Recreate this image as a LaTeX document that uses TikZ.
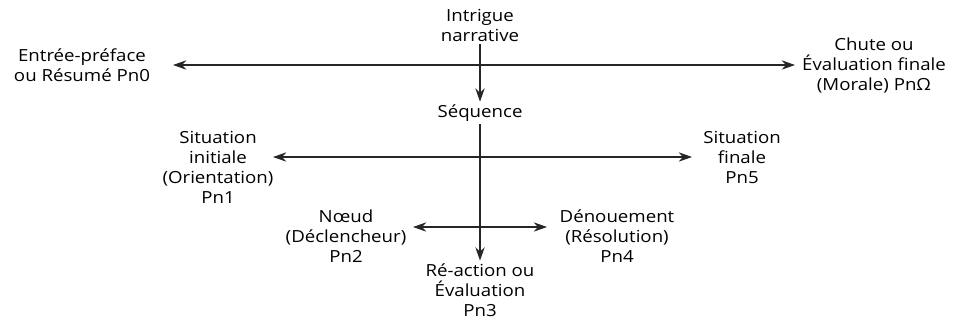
\documentclass[tikz,border=0pt]{standalone}
\usepackage{fontspec}
\setmainfont[FakeStretch=1.12]{Open Sans}
\usetikzlibrary{arrows.meta}

\begin{document}
\begin{tikzpicture}[x=0.75pt,y=-0.75pt,
    >={Stealth[length=10pt,width=7pt]},
    label/.style={align=center,inner sep=2pt,font=\fontsize{12.5}{15}\selectfont},
    axis/.style={line width=0.9pt,draw=black!85}]
    \useasboundingbox (0,0) rectangle (955,322);
    % labels
    \node[label] (intrigue) at (480,25) {Intrigue\\narrative};
    \node[label] (sequence) at (480,113) {Séquence};
    \node[label] (entree) at (82,65) {Entrée-préface\\ou Résumé Pn0};
    \node[label] (chute) at (874,65) {Chute ou\\Évaluation finale\\(Morale) PnΩ};
    \node[label] (initiale) at (218,167) {Situation\\initiale\\(Orientation)\\Pn1};
    \node[label] (finale) at (742,157) {Situation\\finale\\Pn5};
    \node[label] (noeud) at (346,236) {Nœud\\(Déclencheur)\\Pn2};
    \node[label] (denouement) at (617,236) {Dénouement\\(Résolution)\\Pn4};
    \node[label] (reaction) at (480,290) {Ré-action ou\\Évaluation\\Pn3};
    % points on the axis
    \coordinate (c0) at (480,65);
    \coordinate (c1) at (480,157);
    \coordinate (c2) at (480,227);
    % arrow tips
    \coordinate (t0l) at (173,65);
    \coordinate (t0r) at (795,65);
    \coordinate (t1l) at (273,157);
    \coordinate (t1r) at (692,157);
    \coordinate (t2l) at (413,227);
    \coordinate (t2r) at (547,227);
    % vertical axis
    \draw[axis][->] (intrigue.south) -- (sequence.north);
    \draw[axis][->] (sequence.south) -- (reaction.north);
    % horizontal arrows
    \draw[axis][->] (c0) -- (t0l); % to the beginning
    \draw[axis][->] (c0) -- (t0r); % to the end
    \draw[axis][->] (c1) -- (t1l);
    \draw[axis][->] (c1) -- (t1r);
    \draw[axis][->] (c2) -- (t2l);
    \draw[axis][->] (c2) -- (t2r);
\end{tikzpicture}
\end{document}
